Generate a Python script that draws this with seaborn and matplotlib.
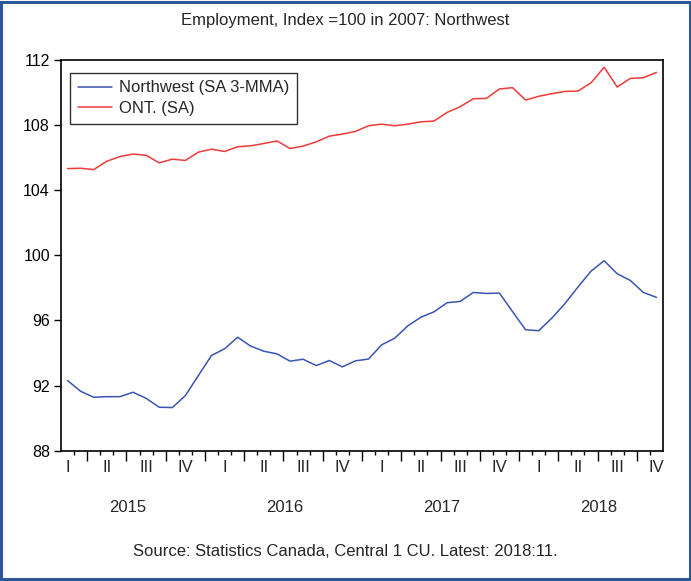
import numpy as np
import pandas as pd
import matplotlib
matplotlib.use("Agg")
import matplotlib.pyplot as plt
import matplotlib.transforms as mtransforms
from matplotlib.patches import Rectangle
import seaborn as sns

# Monthly employment index (2007 = 100), Jan 2015 onward
northwest = [92.31, 91.65, 91.28, 91.32, 91.32, 91.59, 91.22, 90.67, 90.65, 91.38,
             92.62, 93.85, 94.26, 94.97, 94.42, 94.11, 93.95, 93.50, 93.62, 93.23,
             93.54, 93.15, 93.52, 93.63, 94.50, 94.91, 95.67, 96.20, 96.53, 97.09,
             97.17, 97.72, 97.66, 97.68, 96.55, 95.43, 95.37, 96.14, 97.03, 98.05,
             99.03, 99.67, 98.87, 98.46, 97.72, 97.42]
ontario = [105.33, 105.35, 105.27, 105.78, 106.07, 106.22, 106.15, 105.68, 105.91, 105.83,
           106.34, 106.52, 106.38, 106.67, 106.73, 106.87, 107.03, 106.56, 106.71, 106.97,
           107.32, 107.45, 107.61, 107.96, 108.06, 107.96, 108.06, 108.20, 108.25, 108.78,
           109.13, 109.62, 109.64, 110.22, 110.30, 109.54, 109.77, 109.93, 110.07, 110.09,
           110.60, 111.55, 110.34, 110.87, 110.91, 111.24]
series_names = ["Northwest (SA 3-MMA)", "ONT. (SA)"]
quarter_labels = ["I", "II", "III", "IV"]
years = ["2015", "2016", "2017", "2018"]
y_ticks = [88, 92, 96, 100, 104, 108, 112]

n = len(northwest)
months = np.arange(n)
df = pd.DataFrame({
    "month": np.concatenate([months, months]),
    "index": northwest + ontario,
    "series": [series_names[0]] * n + [series_names[1]] * n,
})

sns.set_style("ticks")
plt.rcParams["font.family"] = ["Liberation Sans", "DejaVu Sans"]

fig = plt.figure(figsize=(6.91, 5.81), dpi=100)
ax = fig.add_axes([61 / 691, 1 - 450.7 / 581, (663 - 61) / 691, (450.7 - 60) / 581])

palette = {series_names[0]: "#3a55b0", series_names[1]: "#f03a3a"}
sns.lineplot(data=df, x="month", y="index", hue="series", palette=palette,
             linewidth=1.1, ax=ax, legend=True)

ax.set_xlim(-0.5, n - 0.5)
ax.set_ylim(88, 112)
ax.set_yticks(y_ticks)
ax.set_yticklabels([str(v) for v in y_ticks], fontsize=11.5)
ax.tick_params(axis="y", direction="out", length=5, width=1, pad=3, colors="black")
ax.set_xlabel("")
ax.set_ylabel("")

# Month ticks at month boundaries, longer ones mid-quarter
minor_pos = np.arange(0.5, n - 0.5, 1.0)
major_pos = minor_pos[1::3]
ax.set_xticks(major_pos)
ax.set_xticklabels([])
ax.set_xticks(minor_pos, minor=True)
ax.tick_params(axis="x", which="major", direction="out", length=7, width=1, color="black")
ax.tick_params(axis="x", which="minor", direction="out", length=3, width=1, color="black")

for side in ["top", "right", "left", "bottom"]:
    ax.spines[side].set_visible(True)
    ax.spines[side].set_color("black")
    ax.spines[side].set_linewidth(1.2)

# Quarter and year labels under the axis
trans = mtransforms.blended_transform_factory(ax.transData, fig.transFigure)
for q in range(0, n, 3):
    ax.text(q, 1 - 467 / 581, quarter_labels[(q // 3) % 4], transform=trans,
            ha="center", va="center", fontsize=12)
for i, yr in enumerate(years):
    ax.text(4.6 + 12 * i, 1 - 507 / 581, yr, transform=trans,
            ha="center", va="center", fontsize=12)

leg = ax.legend(loc="upper left", bbox_to_anchor=(0.015, 0.967), borderaxespad=0,
                fontsize=12, frameon=True, fancybox=False, edgecolor="black",
                handlelength=2.05, handletextpad=0.45, borderpad=0.45,
                labelspacing=0.35)
leg.get_frame().set_linewidth(1.0)
leg.set_title(None)

fig.text(345.5 / 691, 1 - 20 / 581, "Employment, Index =100 in 2007: Northwest",
         ha="center", va="center", fontsize=12)
fig.text(345.5 / 691, 1 - 551 / 581,
         "Source: Statistics Canada, Central 1 CU. Latest: 2018:11.",
         ha="center", va="center", fontsize=12)

fig.patches.append(Rectangle((0.002, 0.003), 0.996, 0.994, transform=fig.transFigure,
                             fill=False, edgecolor="#2b5797", linewidth=2.2))

fig.savefig("out.png", dpi=100, facecolor="white")
